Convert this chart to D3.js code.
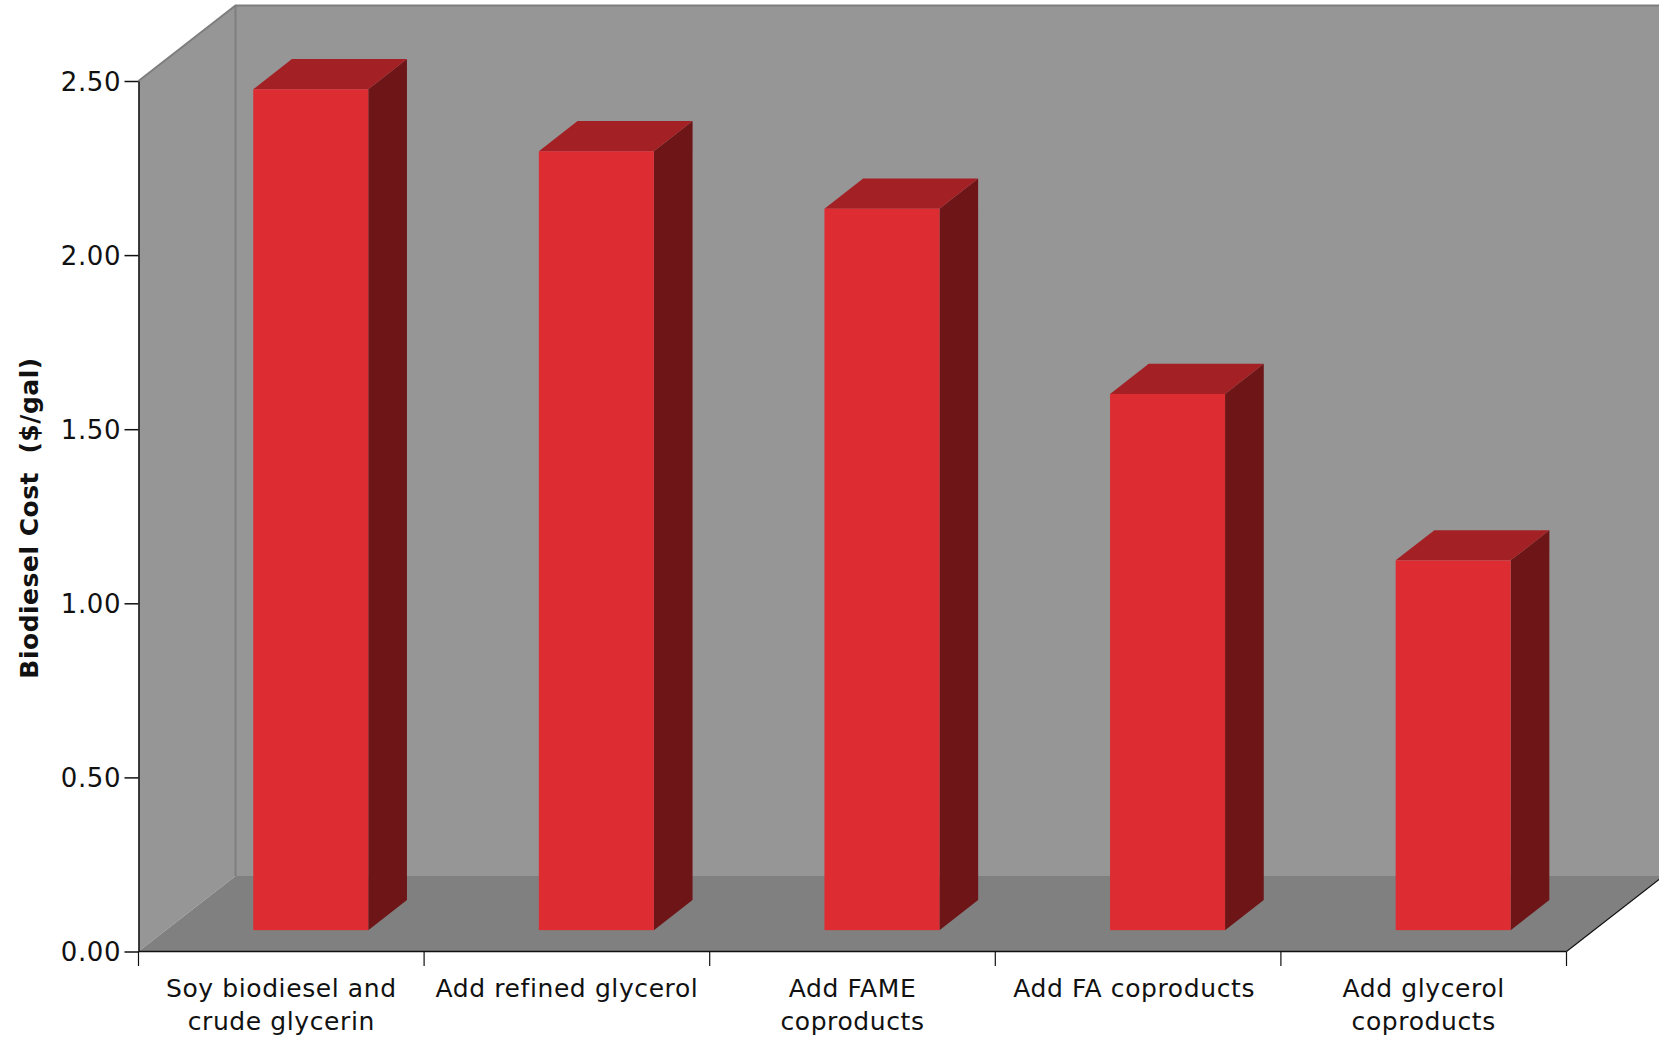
<!DOCTYPE html>
<html>
<head>
<meta charset="utf-8">
<script src="https://cdn.jsdelivr.net/npm/d3@7"></script>
<style>
html, body { margin: 0; padding: 0; background: #fff; overflow: hidden; }
svg { display: block; }
text { font-family: "DejaVu Sans", sans-serif; fill: #111; }
</style>
</head>
<body>
<svg id="chart" width="1659" height="1037"></svg>
<script>
// Biodiesel cost after each coproduct credit, $/gal
const categories = [
  ["Soy biodiesel and", "crude glycerin"],
  ["Add refined glycerol"],
  ["Add FAME", "coproducts"],
  ["Add FA coproducts"],
  ["Add glycerol", "coproducts"]
];
const costs = [2.415, 2.237, 2.072, 1.54, 1.062];
const yTicks = [0, 0.5, 1, 1.5, 2, 2.5];

const margin = { left: 138.5, right: 1566.5, top: 81, bottom: 951.5 };
const depth = { x: 97, y: -75.5 };     // full floor depth as drawn on screen
const barDepth = { start: 0.283, end: 0.682 };
const barWidth = 115;
const barShift = 2;
const labelShift = [0, 0, 0, -4, 0];

const colors = {
  wall: "#969696", floor: "#808080", edge: "#7e7e7e",
  front: "#dd2c32", top: "#a32025", side: "#6e1518"
};

const svg = d3.select("#chart");
const x = d3.scaleBand().domain(d3.range(categories.length)).range([margin.left, margin.right]);
const y = d3.scaleLinear().domain([0, 2.5]).range([margin.bottom, margin.top]);

const poly = pts => pts.map(p => p.join(",")).join(" ");
const X0 = margin.left, X1 = margin.right, Y0 = margin.bottom, Y1 = margin.top;
const dx = depth.x, dy = depth.y;

// Box walls and floor
svg.append("polygon").attr("fill", colors.wall)
  .attr("points", poly([[X0 + dx, Y1 + dy], [X1 + dx, Y1 + dy], [X1 + dx, Y0 + dy], [X0 + dx, Y0 + dy]]));
svg.append("polygon").attr("fill", colors.wall)
  .attr("points", poly([[X0, Y1], [X0 + dx, Y1 + dy], [X0 + dx, Y0 + dy], [X0, Y0]]));
svg.append("polygon").attr("fill", colors.floor)
  .attr("points", poly([[X0, Y0], [X0 + dx, Y0 + dy], [X1 + dx, Y0 + dy], [X1, Y0]]));

svg.append("path").attr("fill", "none").attr("stroke", colors.edge).attr("stroke-width", 2)
  .attr("d", d3.line()([[X0, Y1], [X0 + dx, Y1 + dy], [X1 + dx, Y1 + dy]]));
svg.append("path").attr("fill", "none").attr("stroke", colors.edge).attr("stroke-width", 2)
  .attr("d", d3.line()([[X0 + dx, Y1 + dy], [X0 + dx, Y0 + dy]]));
svg.append("path").attr("fill", "none").attr("stroke", "#111").attr("stroke-width", 1.2)
  .attr("d", d3.line()([[X1, Y0], [X1 + dx, Y0 + dy]]));

// Extruded bars
const bars = svg.append("g").selectAll("g").data(costs).join("g");
const barGeom = (d, i) => {
  const cx = x(i) + x.bandwidth() / 2;
  const l = cx - barWidth / 2 + dx * barDepth.start + barShift;
  const r = l + barWidth;
  const b = Y0 + dy * barDepth.start;
  const t = y(d) + dy * barDepth.start;
  const ox = dx * (barDepth.end - barDepth.start);
  const oy = dy * (barDepth.end - barDepth.start);
  return { l, r, b, t, ox, oy };
};
bars.append("polygon").attr("fill", colors.side).attr("points", (d, i) => {
  const g = barGeom(d, i);
  return poly([[g.r, g.t], [g.r + g.ox, g.t + g.oy], [g.r + g.ox, g.b + g.oy], [g.r, g.b]]);
});
bars.append("polygon").attr("fill", colors.top).attr("points", (d, i) => {
  const g = barGeom(d, i);
  return poly([[g.l, g.t], [g.l + g.ox, g.t + g.oy], [g.r + g.ox, g.t + g.oy], [g.r, g.t]]);
});
bars.append("rect").attr("fill", colors.front)
  .attr("x", (d, i) => barGeom(d, i).l)
  .attr("y", (d, i) => barGeom(d, i).t)
  .attr("width", barWidth)
  .attr("height", (d, i) => { const g = barGeom(d, i); return g.b - g.t; });

// Value axis
const yAxis = svg.append("g").attr("transform", `translate(${X0},0)`)
  .call(d3.axisLeft(y).tickValues(yTicks).tickFormat(d3.format(".2f")).tickSize(14).tickSizeOuter(0).tickPadding(3.4));
yAxis.selectAll("text").attr("font-size", 26).attr("letter-spacing", 0.6)
  .style("font-family", '"DejaVu Sans", sans-serif').attr("fill", "#111").attr("dy", "0.36em");
yAxis.selectAll("line, path").attr("stroke", "#111").attr("stroke-width", 1.5);

// Category axis: ticks fall on band edges, labels sit centred in each band
const xAxis = svg.append("g").attr("transform", `translate(0,${Y0})`);
xAxis.append("path").attr("stroke", "#111").attr("stroke-width", 1.5).attr("fill", "none")
  .attr("d", d3.line()([[X0, 0], [X1, 0]]));
xAxis.selectAll("line").data(d3.range(categories.length + 1)).join("line")
  .attr("x1", i => i < categories.length ? x(i) : X1)
  .attr("x2", i => i < categories.length ? x(i) : X1)
  .attr("y1", 0).attr("y2", 14.5)
  .attr("stroke", "#111").attr("stroke-width", 1.2);
const labels = svg.append("g").selectAll("text").data(categories).join("text")
  .attr("text-anchor", "middle").attr("font-size", 25).attr("letter-spacing", 0.6)
  .attr("transform", (d, i) => `translate(${x(i) + x.bandwidth() / 2 + labelShift[i]},997)`);
labels.selectAll("tspan").data(d => d).join("tspan")
  .attr("x", 0).attr("y", (d, i) => i * 33).text(d => d);

svg.append("text").attr("text-anchor", "middle")
  .attr("transform", "translate(38,518) rotate(-90)")
  .attr("font-size", 25).attr("font-weight", "bold").attr("letter-spacing", 0.5)
  .style("white-space", "pre")
  .text("Biodiesel Cost  ($/gal)");
</script>
</body>
</html>
